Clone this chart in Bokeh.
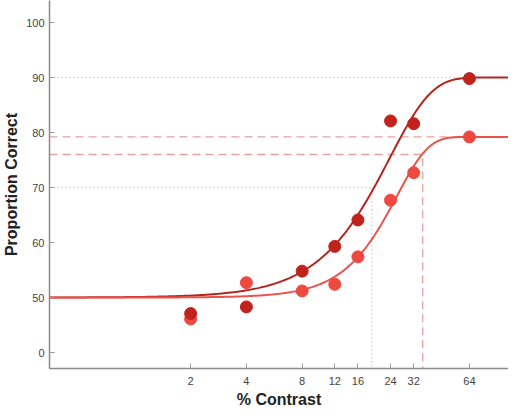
import numpy as np
from bokeh.plotting import figure
from bokeh.models import FixedTicker, Range1d
from bokeh.embed import file_html
from bokeh.resources import INLINE

# data
contrast = [2, 4, 8, 12, 16, 24, 32, 64]
dark_pc = [47.1, 48.3, 54.8, 59.3, 64.1, 82.1, 81.6, 89.8]
light_pc = [46.1, 52.7, 51.2, 52.4, 57.4, 67.7, 72.7, 79.2]
x_ticks = [2, 4, 8, 12, 16, 24, 32, 64]
y_ticks = [40, 50, 60, 70, 80, 90, 100]
y_tick_labels = ["0", "50", "60", "70", "80", "90", "100"]

# fitted Weibull parameters (guess, alpha, beta, upper asymptote)
dark_fit = [50.0, 23.7, 1.91, 90.0]
light_fit = [50.0, 26.0, 2.55, 79.2]
dark_thresh = [19.0, 70.0]
light_thresh = [35.8, 76.0]

DARK = "#c0231d"
DARK_LINE = "#b3261f"
LIGHT = "#ee4941"
LIGHT_LINE = "#e8544b"
REF = "#e3a3a3"

X0, X1 = 0.346, 104.0
Y0, Y1 = 37.1, 104.0

p = figure(width=508, height=410, x_axis_type="log",
           x_range=Range1d(X0, X1), y_range=Range1d(Y0, Y1),
           output_backend="svg", toolbar_location=None,
           min_border_left=43, min_border_right=0, min_border_top=0,
           min_border_bottom=38)
p.outline_line_color = None
p.grid.visible = False

def weibull(x, prm):
    g, a, b, u = prm
    return g + (u - g) * (1 - np.exp(-(x / a) ** b))

xs = np.logspace(np.log10(X0), np.log10(X1), 400)

# reference lines
p.line([X0, X1], [90, 90], line_color=REF, line_dash="1 3", line_width=1.2)
p.line([X0, dark_thresh[0], dark_thresh[0]], [dark_thresh[1], dark_thresh[1], Y0],
       line_color=REF, line_dash="1 3", line_width=1.2)
p.line([X0, X1], [light_fit[3], light_fit[3]], line_color=REF, line_dash="8 5", line_width=1.3)
p.line([X0, light_thresh[0], light_thresh[0]], [light_thresh[1], light_thresh[1], Y0],
       line_color=REF, line_dash="8 5", line_width=1.3)

p.line(xs, weibull(xs, dark_fit), line_color=DARK_LINE, line_width=2)
p.line(xs, weibull(xs, light_fit), line_color=LIGHT_LINE, line_width=2)

p.scatter(contrast, light_pc, size=12, fill_color=LIGHT, line_color=LIGHT)
p.scatter(contrast, dark_pc, size=12, fill_color=DARK, line_color=DARK)

p.xaxis.ticker = FixedTicker(ticks=x_ticks)
p.xaxis.major_label_overrides = {t: str(t) for t in x_ticks}
p.yaxis.ticker = FixedTicker(ticks=y_ticks)
p.yaxis.major_label_overrides = dict(zip(y_ticks, y_tick_labels))
p.xaxis.minor_tick_line_color = None
p.yaxis.minor_tick_line_color = None
for ax in (p.xaxis[0], p.yaxis[0]):
    ax.axis_line_color = "#8a8a8a"
    ax.axis_line_width = 1.5
    ax.major_tick_in = 5
    ax.major_tick_out = 0
    ax.major_tick_line_color = "#9a9a9a"
    ax.major_label_text_font = "Helvetica"
    ax.major_label_text_font_size = "11px"
    ax.major_label_text_color = "#444444"
    ax.axis_label_text_font = "Liberation Sans"
    ax.axis_label_text_font_size = "16px"
    ax.axis_label_text_font_style = "bold"
    ax.axis_label_text_color = "#222222"
p.xaxis.axis_label = "% Contrast"
p.yaxis.axis_label = "Proportion Correct"
p.xaxis.major_label_standoff = 8
p.xaxis.axis_label_standoff = 3
p.yaxis.major_label_standoff = 5
p.yaxis.axis_label_standoff = 3

open("out.html", "w").write(file_html(p, INLINE))
